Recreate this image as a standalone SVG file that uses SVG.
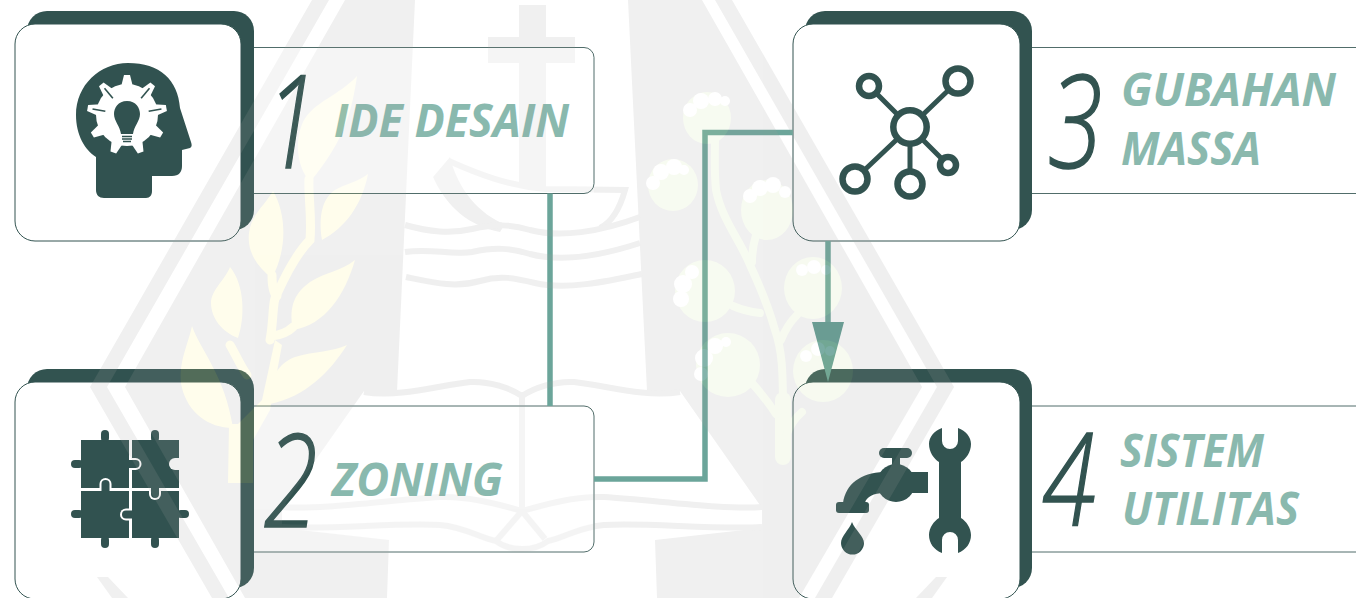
<svg xmlns="http://www.w3.org/2000/svg" xmlns:xlink="http://www.w3.org/1999/xlink" width="1356" height="598" viewBox="0 0 1356 598">
<style>
.back{fill:#325350}
.front{fill:#fff;stroke:#325350;stroke-width:1}
.panel{fill:#fff;stroke:#325350;stroke-width:1;stroke-opacity:.85}
.ico{fill:#325350}
.num{font-family:"Open Sans","Liberation Sans",sans-serif;font-weight:300;font-style:italic;font-size:129px;fill:#325350;stroke:#325350;stroke-width:1.6}
.lbl{font-family:"Open Sans","Liberation Sans",sans-serif;font-weight:700;font-style:italic;font-size:46px;fill:#8ab9ae}
.net{fill:#fff;stroke:#325350;stroke-width:6.5}
.con{fill:none;stroke:#6ca59a;stroke-width:5.5}
.wg{fill:#9f9f9f}
.wl{fill:none;stroke:#9f9f9f;stroke-width:6}
.leaf{fill:#fff38a}
.lstem{fill:none;stroke:#fff38a;stroke-width:9;stroke-linecap:round}
.fl{fill:#cfe4a8}
.fstem{fill:none;stroke:#cfe4a8;stroke-width:8;stroke-linecap:round}
.ft{fill:#fff}
</style>
<defs>
<polygon id="tooth" points="121,87 124,75 130,75 133,87" fill="#fff"/>
<line id="slit" x1="127" y1="80" x2="127" y2="93" stroke="#325350" stroke-width="1.6"/>
<clipPath id="inPanels"><rect x="254" y="47.5" width="340" height="146"/><rect x="254" y="406" width="340" height="146"/></clipPath>
<clipPath id="outPanels"><path clip-rule="evenodd" d="M0,0H1356V598H0ZM254,47.5H594V193.5H254ZM254,406H594V552H254Z"/></clipPath>
<g id="wm">
<polygon class="wg" points="312,0 329,0 107,387 229,598 212,598 90,387"/>
<polygon class="wg" points="732,0 715,0 937,387 815,598 832,598 954,387"/>
<polygon class="wg" points="97,577 108,577 128,598 112,598"/>
<polygon class="wg" points="947,577 936,577 916,598 932,598"/>
<polygon class="wg" points="345,0 415,0 397,391 364,391 282,508 282,528 389,540 387,598 245,598 125,387"/>
<polygon class="wg" points="702,0 628,0 647,391 680,391 762,508 762,528 655,540 657,598 799,598 922,387"/>
<path class="wg" d="M519,5H546V37H575V63H546V187H519V63H488V37H519Z"/>
<path class="wl" d="M449,161C480,175 510,186 545,189L625,190C620,208 612,222 600,228"/>
<path class="wg" d="M450,157L433,177C447,208 470,226 500,232L505,224C480,215 458,190 450,157Z"/>
<path class="wl" d="M405,225C430,232 450,234 472,229C495,224 510,224 530,230C560,238 600,232 640,217"/>
<path class="wl" d="M405,252C430,248 450,255 472,252C495,247 510,248 530,254C560,262 600,256 640,243"/>
<path class="wl" d="M406,277C435,283 455,288 480,281C500,275 515,278 535,283C565,290 605,282 642,274"/>
<path class="wl" d="M364,392C400,398 440,385 470,382C490,381 510,388 522,396C534,388 554,381 574,382C604,385 644,398 680,392"/>
<path class="wl" d="M522,396V511"/>
<path class="wl" d="M282,507C320,510 390,500 440,497C470,496 500,505 522,511C544,505 574,496 604,497C654,500 724,510 762,507"/>
<path class="wl" d="M282,527C330,530 400,522 440,525C465,527 480,538 496,541C505,548 515,549 522,549C529,549 539,548 548,541C564,538 579,527 604,525C644,522 714,530 762,527"/>
<path class="wl" d="M522,511L496,541M522,511L545,539"/>
<g>
<path class="leaf" d="M357,76C352,110 345,140 310,182C296,165 295,140 303,122C313,102 340,95 357,76Z"/>
<path class="leaf" d="M368,174C362,205 345,228 322,240C318,215 323,198 335,190C345,184 358,182 368,174Z"/>
<path class="leaf" d="M273,191C287,215 287,250 272,278C255,265 247,250 249,233C251,215 265,205 273,191Z"/>
<path class="leaf" d="M355,260C345,295 325,325 293,330C288,305 296,292 310,282C325,272 340,272 355,260Z"/>
<path class="leaf" d="M230,267C245,285 245,318 238,338C222,332 211,318 211,303C211,290 225,280 230,267Z"/>
<path class="leaf" d="M347,345C330,372 305,397 270,404C266,380 280,362 295,357C315,351 332,352 347,345Z"/>
<path class="leaf" d="M192,326C200,350 225,375 233,428C208,428 188,412 182,388C177,365 188,345 192,326Z"/>
<path class="leaf" d="M228,483L229,424L238,424L262,400L275,340L282,345L270,410L253,440L253,483Z"/>
<path class="lstem" d="M270,340C274,320 272,300 277,294C290,265 300,250 310,240C312,215 308,195 309,179"/>
<path class="lstem" d="M272,336C280,335 288,332 293,327"/>
<path class="lstem" d="M230,345C236,355 240,365 247,375"/>
<path class="lstem" d="M272,275C272,290 275,295 277,296"/>
</g>
<g>
<path class="fstem" style="stroke-width:16" d="M783,457V400"/>
<path class="fstem" d="M783,410C783,370 782,350 775,330C768,305 757,280 750,265C740,240 722,220 716,190C714,170 715,155 715,140"/>
<path class="fstem" d="M752,262C752,250 753,245 756,235"/>
<path class="fstem" d="M733,306C742,310 750,312 760,313"/>
<path class="fstem" d="M797,315C790,322 785,330 781,340"/>
<path class="fstem" d="M752,383C760,392 768,402 776,414"/>
<path class="fstem" d="M802,412C795,418 790,425 786,436"/>
<ellipse class="fl" cx="707" cy="118" rx="24" ry="26"/>
<ellipse class="fl" cx="673" cy="185" rx="25" ry="26"/>
<ellipse class="fl" cx="767" cy="210" rx="26" ry="30"/>
<ellipse class="fl" cx="705" cy="291" rx="30" ry="31"/>
<ellipse class="fl" cx="813" cy="288" rx="29" ry="31"/>
<ellipse class="fl" cx="728" cy="365" rx="32" ry="32"/>
<ellipse class="fl" cx="823" cy="371" rx="30" ry="31"/>
<g class="ft">
<circle cx="690" cy="110" r="7"/><circle cx="701" cy="101" r="8"/><circle cx="715" cy="99" r="7"/><circle cx="725" cy="101" r="5"/>
<circle cx="653" cy="183" r="7"/><circle cx="661" cy="172" r="8"/><circle cx="674" cy="167" r="8"/><circle cx="684" cy="170" r="5"/>
<circle cx="750" cy="196" r="7"/><circle cx="760" cy="188" r="8"/><circle cx="773" cy="185" r="8"/><circle cx="785" cy="192" r="6"/>
<circle cx="681" cy="299" r="8"/><circle cx="683" cy="284" r="9"/><circle cx="692" cy="272" r="7"/>
<circle cx="802" cy="270" r="6"/><circle cx="814" cy="267" r="7"/><circle cx="826" cy="270" r="5"/>
<circle cx="701" cy="374" r="7"/><circle cx="704" cy="358" r="9"/><circle cx="715" cy="346" r="8"/><circle cx="726" cy="342" r="5"/>
<circle cx="806" cy="356" r="6"/><circle cx="818" cy="349" r="7"/><circle cx="830" cy="351" r="5"/>
</g>
</g>
</g>
</defs>
<rect width="1356" height="598" fill="#fff"/>

<g id="node-1">
<rect class="panel" x="240" y="47.5" width="354" height="146" rx="10"/>
<rect class="back" x="27" y="11" width="227" height="219" rx="20"/>
<rect class="front" x="15" y="24" width="226" height="217" rx="20"/>
<path class="ico" d="M96,157V190C96,195 99,198 104,198H146C150,198 152,195 152,191V176H172C179,176 182,172 182,166V150L190,148C192,147 192,145 191,142L180,108C178,80 160,63 128,63C100,63 76,85 76,115C76,135 85,150 96,157Z"/>
<circle cx="127" cy="115" r="31" fill="#fff"/>
<use xlink:href="#tooth"/>
<use xlink:href="#tooth" transform="rotate(40 127 115)"/>
<use xlink:href="#tooth" transform="rotate(80 127 115)"/>
<use xlink:href="#tooth" transform="rotate(120 127 115)"/>
<use xlink:href="#tooth" transform="rotate(160 127 115)"/>
<use xlink:href="#tooth" transform="rotate(200 127 115)"/>
<use xlink:href="#tooth" transform="rotate(240 127 115)"/>
<use xlink:href="#tooth" transform="rotate(280 127 115)"/>
<use xlink:href="#tooth" transform="rotate(320 127 115)"/>
<use xlink:href="#slit" transform="rotate(40 127 115)"/>
<use xlink:href="#slit" transform="rotate(80 127 115)"/>
<use xlink:href="#slit" transform="rotate(280 127 115)"/>
<use xlink:href="#slit" transform="rotate(320 127 115)"/>
<path class="ico" d="M127,101C136,101 140,108 140,114C140,121 134,126 133,134H121C120,126 114,121 114,114C114,108 118,101 127,101Z"/>
<path d="M122,136.5H132M122,139H132M123,141.5H131" stroke="#325350" stroke-width="1.3" fill="none"/>
<text class="num" transform="translate(265,168) scale(.74,1)">1</text>
<text class="lbl" x="334" y="137" textLength="235" lengthAdjust="spacingAndGlyphs">IDE DESAIN</text>
</g>

<g id="node-2">
<rect class="panel" x="240" y="406" width="354" height="146" rx="10"/>
<rect class="back" x="27" y="369" width="227" height="219" rx="20"/>
<rect class="front" x="15" y="382" width="226" height="217" rx="20"/>
<g class="ico">
<rect x="81" y="440" width="48" height="48"/>
<rect x="132" y="440" width="47" height="48"/>
<rect x="81" y="491" width="48" height="47"/>
<rect x="132" y="491" width="47" height="47"/>
<rect x="101" y="430" width="8" height="12" rx="4"/>
<rect x="151" y="430" width="8" height="12" rx="4"/>
<rect x="71" y="460" width="12" height="8" rx="4"/>
<rect x="71" y="510" width="12" height="8" rx="4"/>
<rect x="177" y="510" width="12" height="8" rx="4"/>
<rect x="101" y="536" width="8" height="12" rx="4"/>
<rect x="151" y="536" width="8" height="12" rx="4"/>
</g>
<path fill="#fff" d="M179,458H175A6,6 0 0 0 175,470H179Z"/>
<path fill="#fff" d="M129,458H135.5A6,6 0 0 1 135.5,470H129Z"/>
<path class="ico" d="M127,460H135.5A4,4 0 0 1 135.5,468H127Z"/>
<path fill="#fff" d="M99.5,491V484A6,6 0 0 1 111.5,484V491Z"/>
<path class="ico" d="M101.5,493V484A4,4 0 0 1 109.5,484V493Z"/>
<path fill="#fff" d="M149,488V494A6,6 0 0 0 161,494V488Z"/>
<path class="ico" d="M151,486V494A4,4 0 0 0 159,494V486Z"/>
<path fill="#fff" d="M132,508.5H126A6,6 0 0 0 126,520.5H132Z"/>
<path class="ico" d="M134,510.5H126A4,4 0 0 0 126,518.5H134Z"/>
<text class="num" transform="translate(264,527) scale(.76,1)">2</text>
<text class="lbl" x="332" y="496" textLength="171" lengthAdjust="spacingAndGlyphs">ZONING</text>
</g>

<g id="node-3">
<rect class="panel" x="1020" y="47.5" width="400" height="146" rx="10"/>
<rect class="back" x="805" y="11" width="227" height="219" rx="20"/>
<rect class="front" x="793" y="24" width="227" height="217" rx="20"/>
<path d="M869,86L910,127M958,81L910,127M855,179L910,127M910,184V127M948,165L910,127" stroke="#325350" stroke-width="5" fill="none"/>
<circle class="net" cx="910" cy="127" r="16.7"/>
<circle class="net" cx="869" cy="86" r="10"/>
<circle class="net" cx="958" cy="81" r="12.5"/>
<circle class="net" cx="855" cy="179" r="12.5"/>
<circle class="net" cx="910" cy="184" r="12.5"/>
<circle class="net" cx="948" cy="165" r="8"/>
<text class="num" transform="translate(1048,168) scale(.76,1)">3</text>
<text class="lbl" x="1121" y="106" textLength="215" lengthAdjust="spacingAndGlyphs">GUBAHAN</text>
<text class="lbl" x="1121" y="165" textLength="140" lengthAdjust="spacingAndGlyphs">MASSA</text>
</g>

<g id="node-4">
<rect class="panel" x="1020" y="406" width="400" height="146" rx="10"/>
<rect class="back" x="805" y="369" width="227" height="219" rx="20"/>
<rect class="front" x="793" y="382" width="227" height="217" rx="20"/>
<g class="ico">
<rect x="879" y="448" width="33" height="10" rx="5"/>
<rect x="892" y="456" width="8" height="16"/>
<circle cx="896" cy="483" r="19"/>
<rect x="896" y="472" width="32" height="21"/>
<path d="M884,472C860,473 846,484 843,503H865C866,497 874,493 884,493Z"/>
<rect x="836" y="502" width="33" height="11" rx="3"/>
<path d="M852,522C855,530 864,536 864,543A11.5,11.5 0 0 1 841,543C841,536 849,530 852,522Z"/>
<path d="M942,428V441A8,8 0 0 0 958,441V428C966,431 971,437 971,444C971,452 966,459 961,462V518C966,521 971,528 971,535C971,543 966,550 958,553V540A8,8 0 0 0 942,540V553C934,550 929,543 929,535C929,528 934,521 939,518V462C934,459 929,452 929,444C929,437 934,431 942,428Z"/>
</g>
<text class="num" transform="translate(1042,526) scale(.76,1)">4</text>
<text class="lbl" x="1120" y="467" textLength="144" lengthAdjust="spacingAndGlyphs">SISTEM</text>
<text class="lbl" x="1122" y="525" textLength="177" lengthAdjust="spacingAndGlyphs">UTILITAS</text>
</g>

<g id="connectors">
<path class="con" d="M550,193.5V406"/>
<path class="con" d="M594,479H705V132.5H793"/>
<path class="con" d="M828,241V325"/>
<polygon points="812,322 844,322 828,382" fill="#609c91"/>
</g>

<g id="watermark">
<use xlink:href="#wm" opacity=".16" clip-path="url(#outPanels)"/>
<use xlink:href="#wm" opacity=".1" clip-path="url(#inPanels)"/>
</g>
</svg>
